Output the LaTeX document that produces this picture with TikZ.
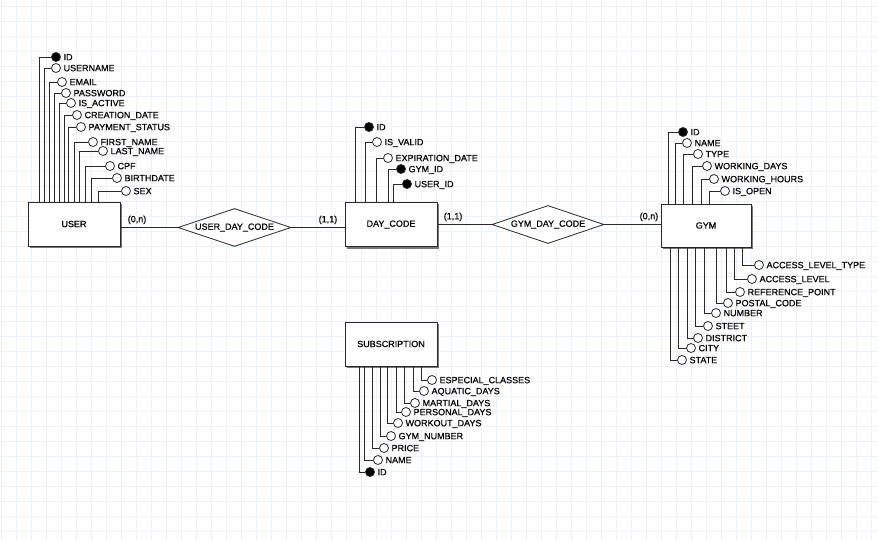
\documentclass[tikz,border=0pt]{standalone}
\usepackage{fontspec}
\newfontfamily\erfont[FakeBold=0.5]{Liberation Sans}
\usetikzlibrary{shapes.geometric, shadows}
\definecolor{gridc}{RGB}{236,242,250}
\definecolor{edge}{RGB}{40,40,40}
\definecolor{shade}{RGB}{120,120,120}

\begin{document}
\begin{tikzpicture}[x=1pt, y=-1pt,
    entity/.style={draw=edge, fill=white, line width=0.8pt, minimum width=92pt,
      minimum height=44pt, font=\erfont\fontsize{9}{10}\selectfont,
      drop shadow={shadow xshift=2pt, shadow yshift=-2pt, fill=shade, opacity=1}},
    relation/.style={diamond, aspect=3, draw=edge, fill=white, line width=0.8pt,
      inner sep=0pt, minimum width=113pt, minimum height=38pt,
      font=\erfont\fontsize{9}{10}\selectfont},
    attr/.style={circle, draw=edge, line width=0.8pt, inner sep=0pt, minimum size=9pt},
    attrlabel/.style={anchor=base west, inner sep=0pt, xshift=2.5pt, yshift=-3.2pt,
      font=\erfont\fontsize{9}{10}\selectfont},
    card/.style={inner sep=0pt, font=\erfont\fontsize{9}{10}\selectfont},
    link/.style={draw=edge, line width=0.8pt}
  ]

  % canvas and grid
  \useasboundingbox (0,0) rectangle (878,540);
  \fill[white] (0,0) rectangle (878,540);
  \begin{scope}
    \clip (0,0) rectangle (878,540);
    \draw[gridc, line width=0.8pt, shift={(1.7,6.7)}, step=15pt] (-15,-15) grid (890,550);
  \end{scope}

  % entities
  \node[entity] (user) at (74,224) {USER};
  \node[entity] (daycode) at (391,224.5) {DAY\_CODE};
  \node[entity, minimum width=90pt, minimum height=43pt] (gym) at (706,225.5) {GYM};
  \node[entity] (subs) at (391,344) {SUBSCRIPTION};

  % relationships
  \node[relation] (udc) at (234.5,227.5) {USER\_DAY\_CODE};
  \node[relation, minimum width=112pt] (gdc) at (548,224.5) {GYM\_DAY\_CODE};

  \draw[link] (user.east |- udc) --
    node[card, at start, anchor=south west, xshift=7pt, yshift=3pt] {(0,n)} (udc.west);
  \draw[link] (udc.east) --
    node[card, at end, anchor=south east, xshift=-7pt, yshift=3pt] {(1,1)} (daycode.west |- udc);
  \draw[link] (daycode.east |- gdc) --
    node[card, at start, anchor=south west, xshift=6pt, yshift=3pt] {(1,1)} (gdc.west);
  \draw[link] (gdc.east) --
    node[card, at end, anchor=south east, xshift=-2pt, yshift=3pt] {(0,n)} (gym.west |- gdc);

  % USER attributes
  \foreach \lx/\cx/\cy/\txt/\f [count=\i] in {
      39/56/57/ID/black, 44/56/68/USERNAME/white, 49/62/82/EMAIL/white,
      54/66/93/PASSWORD/white, 59/71/103/IS\_ACTIVE/white,
      64/77/115/CREATION\_DATE/white, 68.5/81/127/PAYMENT\_STATUS/white,
      74/93/142/FIRST\_NAME/white, 79/103/151/LAST\_NAME/white,
      85/110/166/CPF/white, 91/117/178/BIRTHDATE/white, 98/126/191/SEX/white} {
    \node[attr, fill=\f] (u\i) at (\cx,\cy) {};
    \node[attrlabel] (ul\i) at (u\i.east) {\txt};
    \draw[link] (user.north -| \lx,0) |- (u\i.west);
  }

  % DAY_CODE attributes
  \foreach \lx/\cx/\cy/\txt/\f [count=\i] in {
      355/369/127/ID/black, 365/377/142/IS\_VALID/white,
      376/388/158/EXPIRATION\_DATE/white, 388/401/169/GYM\_ID/black,
      393/407/184/USER\_ID/black} {
    \node[attr, fill=\f] (d\i) at (\cx,\cy) {};
    \node[attrlabel] (dl\i) at (d\i.east) {\txt};
    \draw[link] (daycode.north -| \lx,0) |- (d\i.west);
  }

  % GYM attributes, top
  \foreach \lx/\cx/\cy/\txt/\f [count=\i] in {
      668/683/132/ID/black, 675/687/143/NAME/white, 683/698/154/TYPE/white,
      692/707/166/WORKING\_DAYS/white, 701/714/179/WORKING\_HOURS/white,
      709/725/191/IS\_OPEN/white} {
    \node[attr, fill=\f] (g\i) at (\cx,\cy) {};
    \node[attrlabel] (gl\i) at (g\i.east) {\txt};
    \draw[link] (gym.north -| \lx,0) |- (g\i.west);
  }

  % GYM attributes, bottom
  \foreach \lx/\cx/\cy/\txt [count=\i] in {
      742/759/265/ACCESS\_LEVEL\_TYPE, 734/752/279/ACCESS\_LEVEL,
      726/740/292/REFERENCE\_POINT, 716/728/303/POSTAL\_CODE,
      704/716/313/NUMBER, 695/708/326/STEET, 687/698/338/DISTRICT,
      678/691/348/CITY, 670/682/360/STATE} {
    \node[attr, fill=white] (h\i) at (\cx,\cy) {};
    \node[attrlabel] (hl\i) at (h\i.east) {\txt};
    \draw[link] (gym.south -| \lx,0) |- (h\i.west);
  }

  % SUBSCRIPTION attributes
  \foreach \lx/\cx/\cy/\txt/\f [count=\i] in {
      421/432/380/ESPECIAL\_CLASSES/white, 413/424/391/AQUATIC\_DAYS/white,
      404/415/403/MARTIAL\_DAYS/white, 396/406/412/PERSONAL\_DAYS/white,
      387/398/423/WORKOUT\_DAYS/white, 380/391/436/GYM\_NUMBER/white,
      372/384/448/PRICE/white, 364/378/460/NAME/white, 359/370/472/ID/black} {
    \node[attr, fill=\f] (s\i) at (\cx,\cy) {};
    \node[attrlabel] (sl\i) at (s\i.east) {\txt};
    \draw[link] (subs.south -| \lx,0) |- (s\i.west);
  }

\end{tikzpicture}
\end{document}
